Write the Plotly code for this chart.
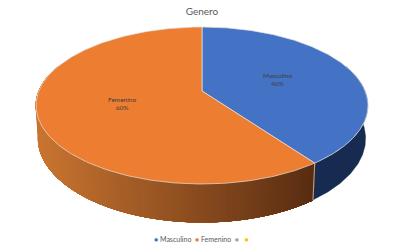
import numpy as np
import plotly.graph_objects as go

title = "Genero"
categories = ["Masculino", "Femenino"]
shares = [40, 60]
colors = ["#4472C4", "#ED7D31"]
extra_legend_colors = ["#A5A5A5", "#FFC000"]

# perspective camera of the 3D pie, applied to the unit disc
CX, CY, K, A, C = 202.0, 91.0, 163.1, -59.0, 0.1847
DEPTH_Y, DEPTH_W = 34.0, 0.0134


def project(theta, low=0.0):
    u, v = np.sin(theta), np.cos(theta)
    w = 1 + C * v + DEPTH_W * low
    return CX + K * u / w, (CY + A * v + DEPTH_Y * low) / w


def hexmix(c1, c2, t):
    a = np.array(c1)
    b = np.array(c2)
    r = a + (b - a) * t
    return "rgb(%d,%d,%d)" % tuple(r.round().astype(int))


fig = go.Figure()
total = sum(shares)
edges = np.cumsum([0] + shares) / total * 2 * np.pi


def poly(x, y, fill, line=None, width=0.6):
    fig.add_trace(go.Scatter(x=x, y=y, mode="lines", fill="toself", fillcolor=fill,
                             line=dict(color=line or fill, width=width),
                             hoverinfo="skip", showlegend=False))


def wall(a, b, col):
    t2 = np.linspace(a, b, 120)
    xt, yt = project(t2)
    xb, yb = project(t2[::-1], 1.0)
    poly(np.r_[xt, xb, xt[0]], np.r_[yt, yb, yt[0]], col, width=0.3)


# side wall, drawn first so the top face covers its hidden part
vis_start, vis_end = np.radians(70), np.radians(290)
wall(max(edges[0], vis_start), edges[1], "#172B50")
# orange wall: painted from the far end towards the seam, overlapping, as a smooth gradient
steps = np.arange(vis_end, edges[1], -np.radians(1.0))
for a in steps:
    xm, _ = project(np.array(a))
    f = np.clip((float(xm) - 40) / 275, 0, 1)
    wall(edges[1], a, hexmix((200, 116, 48), (88, 44, 17), f))

# seam between the slices on the wall
xa, ya = project(np.array([edges[1], edges[1]]), np.array([0.0, 1.0]))
fig.add_trace(go.Scatter(x=xa, y=ya, mode="lines", line=dict(color="#CFC7BE", width=0.8),
                         hoverinfo="skip", showlegend=False))

# top face
for i, (name, col) in enumerate(zip(categories, colors)):
    t = np.linspace(edges[i], edges[i + 1], 240)
    x, y = project(t)
    poly(np.r_[CX, x, CX], np.r_[CY, y, CY], col, line="#E6E3E0", width=0.7)
    mid = (edges[i] + edges[i + 1]) / 2
    rr = 0.5
    u, v = rr * np.sin(mid), rr * np.cos(mid)
    w = 1 + C * v
    lx, ly = CX + K * u / w, (CY + A * v) / w
    fig.add_annotation(x=lx, y=ly, xref="x", yref="y", showarrow=False, align="center",
                       text=f"{name}<br>{round(shares[i] / total * 100)}%",
                       font=dict(family="Lato", size=6.5, color="#404040"))

legend_parts = []
for name, col in list(zip(categories, colors)) + [("", c) for c in extra_legend_colors]:
    legend_parts.append(f"<span style='color:{col}'>●</span> {name}")

fig.add_annotation(x=0.511, y=238.5, xref="paper", yref="y", showarrow=False,
                   text="\u00a0\u00a0".join(legend_parts),
                   font=dict(family="Lato", size=7, color="#595959"))

fig.update_layout(
    width=396, height=248, margin=dict(l=0, r=0, t=0, b=0),
    paper_bgcolor="white", plot_bgcolor="white", showlegend=False,
    title=dict(text=title, x=0.51, xanchor="center", y=0.955, yanchor="middle",
               font=dict(family="Lato", size=10, color="#595959")),
    xaxis=dict(range=[0, 396], visible=False, fixedrange=True),
    yaxis=dict(range=[248, 0], visible=False, fixedrange=True),
)
fig.write_html("out.html", config=dict(displayModeBar=False),
               post_script="document.body.style.margin='0';document.documentElement.style.overflow='hidden';")
